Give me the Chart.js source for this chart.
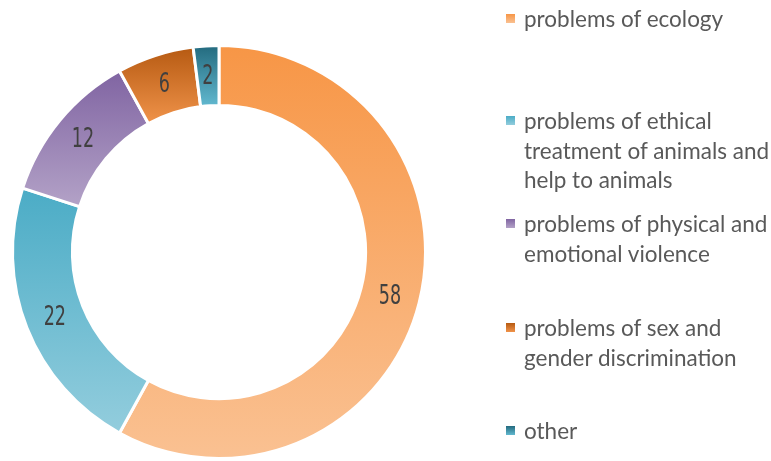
<!DOCTYPE html>
<html>
<head>
<meta charset="utf-8">
<script src="https://cdn.jsdelivr.net/npm/chart.js@4/dist/chart.umd.min.js"></script>
<style>
  html, body { margin: 0; padding: 0; background: #ffffff; }
  #wrap { position: relative; width: 771px; height: 461px; overflow: hidden; }
  #chartBox { position: absolute; left: 0; top: 0; width: 440px; height: 461px; }
  #legend { position: absolute; left: 0; top: 0; width: 771px; height: 461px; pointer-events: none; }
  .item { position: absolute; left: 524px; font-family: Lato, "Open Sans", sans-serif; font-size: 22.5px; line-height: 29.5px; color: #595959; white-space: nowrap; }
  .mark { position: absolute; left: -18px; top: 10px; width: 9px; height: 9px; }
</style>
</head>
<body>
<div id="wrap">
  <div id="chartBox"><canvas id="c"></canvas></div>
  <div id="legend"></div>
</div>
<script>
const categories = [
  "problems of ecology",
  "problems of ethical treatment of animals and help to animals",
  "problems of physical and emotional violence",
  "problems of sex and gender discrimination",
  "other"
];
const legendLines = [
  ["problems of ecology"],
  ["problems of ethical", "treatment of animals and", "help to animals"],
  ["problems of physical and", "emotional violence"],
  ["problems of sex and", "gender discrimination"],
  ["other"]
];
const values = [58, 22, 12, 6, 2];
const topColors = ["#F79646", "#4BACC6", "#8064A2", "#B65A12", "#236A7E"];
const bottomColors = ["#FAC192", "#93CDDD", "#B3A2C7", "#F0934A", "#62B9D0"];
const legendTops = [4, 106, 209, 313, 416];

// HTML legend
const legend = document.getElementById('legend');
legendLines.forEach((lines, i) => {
  const d = document.createElement('div');
  d.className = 'item';
  d.style.top = legendTops[i] + 'px';
  const m = document.createElement('div');
  m.className = 'mark';
  m.style.background = 'linear-gradient(to bottom, ' + topColors[i] + ', ' + bottomColors[i] + ')';
  d.appendChild(m);
  d.innerHTML += lines.join('<br>');
  legend.appendChild(d);
});

const gradientPlugin = {
  id: 'segGradient',
  beforeDatasetsDraw(chart) {
    const ctx = chart.ctx;
    const meta = chart.getDatasetMeta(0);
    meta.data.forEach((el, i) => {
      const p = el.getProps(['x', 'y', 'startAngle', 'endAngle', 'outerRadius', 'innerRadius'], true);
      let ymin = Infinity, ymax = -Infinity;
      const n = 60;
      for (let k = 0; k <= n; k++) {
        const a = p.startAngle + (p.endAngle - p.startAngle) * k / n;
        [p.outerRadius, p.innerRadius].forEach(r => {
          const y = p.y + r * Math.sin(a);
          if (y < ymin) ymin = y;
          if (y > ymax) ymax = y;
        });
      }
      const g = ctx.createLinearGradient(0, ymin, 0, ymax);
      g.addColorStop(0, topColors[i]);
      g.addColorStop(1, bottomColors[i]);
      el.options.backgroundColor = g;
    });
  }
};

const labelPlugin = {
  id: 'segLabels',
  afterDatasetsDraw(chart) {
    const ctx = chart.ctx;
    const meta = chart.getDatasetMeta(0);
    ctx.save();
    ctx.fillStyle = '#404040';
    ctx.font = '26px "Liberation Sans Narrow", "DejaVu Sans Condensed", sans-serif';
    ctx.textAlign = 'center';
    ctx.textBaseline = 'middle';
    meta.data.forEach((el, i) => {
      const pos = el.tooltipPosition(true);
      ctx.save();
      ctx.translate(pos.x, pos.y);
      ctx.scale(0.75, 1);
      ctx.fillText(String(values[i]), 0, 1);
      ctx.restore();
    });
    ctx.restore();
  }
};

new Chart(document.getElementById('c'), {
  type: 'doughnut',
  data: {
    labels: categories,
    datasets: [{
      data: values,
      backgroundColor: topColors.slice(),
      borderColor: '#ffffff',
      borderWidth: 3
    }]
  },
  options: {
    responsive: true,
    maintainAspectRatio: false,
    animation: false,
    cutout: '71%',
    layout: { padding: { top: 44, left: 11, right: 13, bottom: 1 } },
    plugins: {
      legend: { display: false },
      tooltip: { enabled: false }
    }
  },
  plugins: [gradientPlugin, labelPlugin]
});
</script>
</body>
</html>
